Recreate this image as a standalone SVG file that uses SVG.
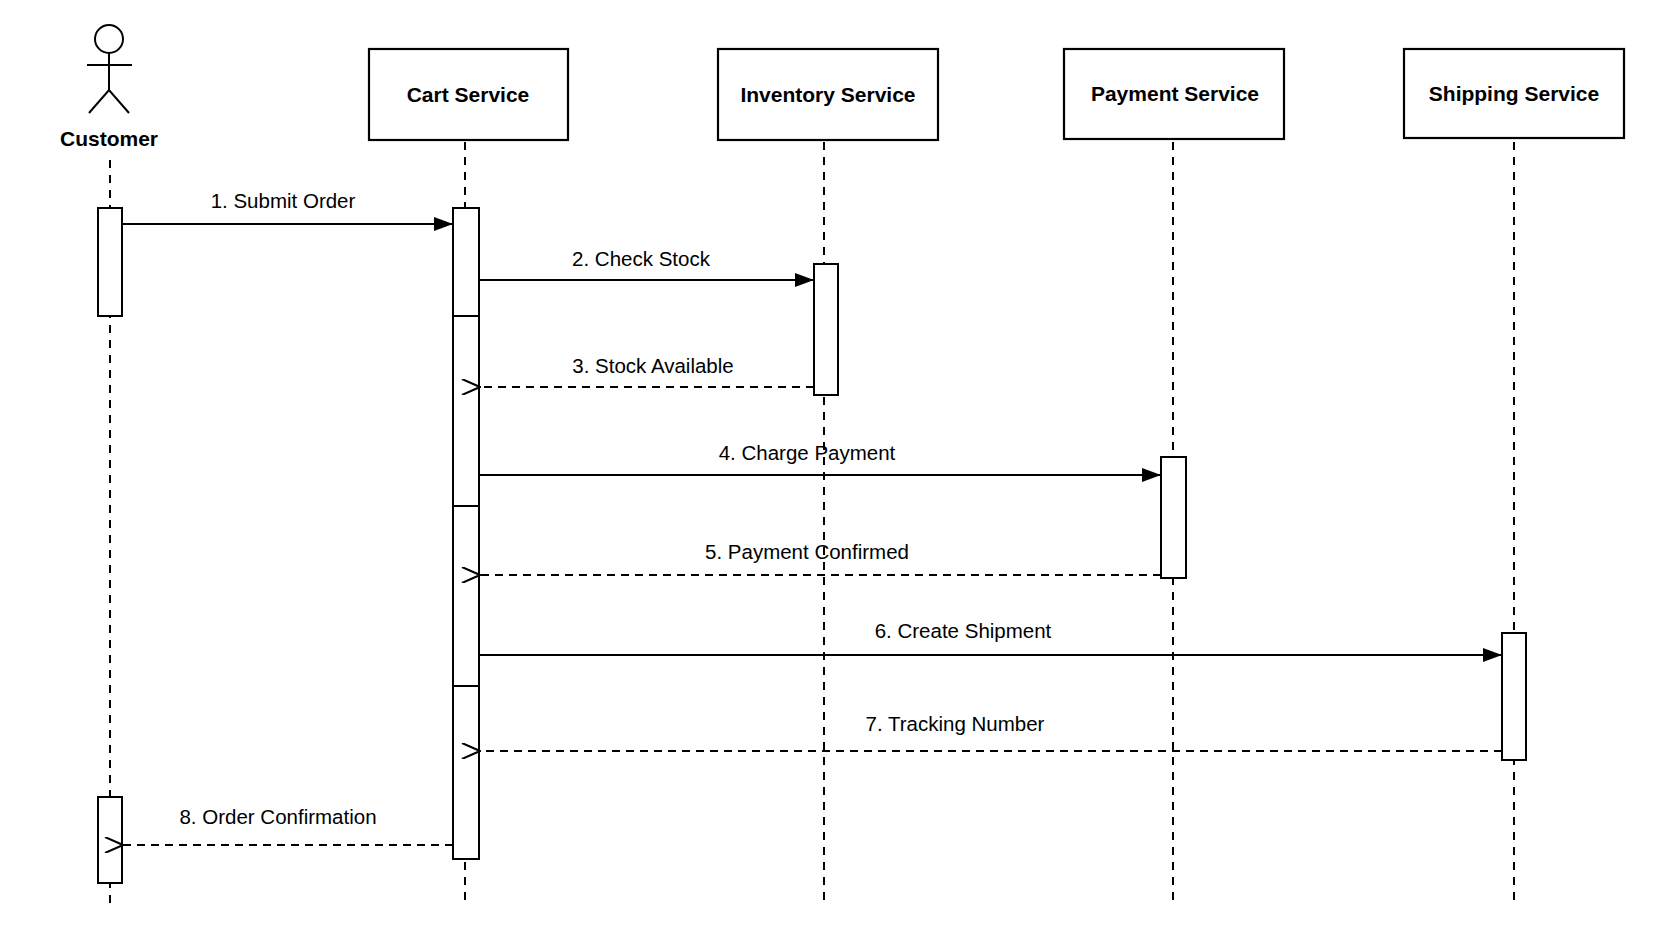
<svg xmlns="http://www.w3.org/2000/svg" width="1672" height="941" viewBox="0 0 1672 941">
<style>
.box{fill:#fff;stroke:#000;stroke-width:2.2}
.life{stroke:#000;stroke-width:2;stroke-dasharray:8,7;fill:none}
.act{fill:#fff;stroke:#000;stroke-width:2}
.msg{stroke:#000;stroke-width:2;fill:none}
.ret{stroke:#000;stroke-width:2;fill:none;stroke-dasharray:8,6}
.nt{font-family:"Liberation Sans",Arial,sans-serif;font-weight:bold;font-size:21px;text-anchor:middle}
.lt{font-family:"Liberation Sans",Arial,sans-serif;font-size:20.5px;text-anchor:middle}
</style>
<defs>
<marker id="solid" markerWidth="20" markerHeight="14" refX="19" refY="7" orient="auto" markerUnits="userSpaceOnUse"><path d="M0,0 L19,7 L0,14 Z" fill="#000"/></marker>
<marker id="open" markerWidth="20" markerHeight="16" refX="1" refY="8" orient="auto" markerUnits="userSpaceOnUse"><path d="M19,0 L1,8 L19,16" fill="none" stroke="#000" stroke-width="2"/></marker>
</defs>
<rect width="1672" height="941" fill="#fff"/>
<g id="lifelines">
<line class="life" x1="110" y1="160" x2="110" y2="907"/>
<line class="life" x1="465" y1="142" x2="465" y2="907"/>
<line class="life" x1="824" y1="142" x2="824" y2="907"/>
<line class="life" x1="1173" y1="142" x2="1173" y2="907"/>
<line class="life" x1="1514" y1="142" x2="1514" y2="907"/>
</g>
<g id="customer">
<circle cx="109" cy="39" r="14" fill="#fff" stroke="#000" stroke-width="2"/>
<line x1="109" y1="53" x2="109" y2="90" stroke="#000" stroke-width="2"/>
<line x1="87" y1="65" x2="132" y2="65" stroke="#000" stroke-width="2"/>
<path d="M89,113 L109,90 L129,113" fill="none" stroke="#000" stroke-width="2"/>
<text class="nt" x="109" y="146">Customer</text>
<rect class="act" x="98" y="208" width="24" height="108"/>
<rect class="act" x="98" y="797" width="24" height="86"/>
</g>
<g id="cart">
<rect class="box" x="369" y="49" width="199" height="91"/>
<text class="nt" x="468" y="102">Cart Service</text>
<rect class="act" x="453" y="208" width="26" height="651"/>
<line x1="453" y1="316" x2="479" y2="316" stroke="#000" stroke-width="2"/>
<line x1="453" y1="506" x2="479" y2="506" stroke="#000" stroke-width="2"/>
<line x1="453" y1="686" x2="479" y2="686" stroke="#000" stroke-width="2"/>
</g>
<g id="inventory">
<rect class="box" x="718" y="49" width="220" height="91"/>
<text class="nt" x="828" y="102">Inventory Service</text>
<rect class="act" x="814" y="264" width="24" height="131"/>
</g>
<g id="payment">
<rect class="box" x="1064" y="49" width="220" height="90"/>
<text class="nt" x="1175" y="101">Payment Service</text>
<rect class="act" x="1161" y="457" width="25" height="121"/>
</g>
<g id="shipping">
<rect class="box" x="1404" y="49" width="220" height="89"/>
<text class="nt" x="1514" y="101">Shipping Service</text>
<rect class="act" x="1502" y="633" width="24" height="127"/>
</g>
<g id="connectors">
<line class="msg" x1="122" y1="224" x2="453" y2="224" marker-end="url(#solid)"/>
<text class="lt" x="283" y="208">1. Submit Order</text>
<line class="msg" x1="479" y1="280" x2="814" y2="280" marker-end="url(#solid)"/>
<text class="lt" x="641" y="266">2. Check Stock</text>
<line class="ret" x1="814" y1="387" x2="480" y2="387" marker-end="url(#open)"/>
<text class="lt" x="653" y="373">3. Stock Available</text>
<line class="msg" x1="479" y1="475" x2="1161" y2="475" marker-end="url(#solid)"/>
<text class="lt" x="807" y="460">4. Charge Payment</text>
<line class="ret" x1="1161" y1="575" x2="480" y2="575" marker-end="url(#open)"/>
<text class="lt" x="807" y="559">5. Payment Confirmed</text>
<line class="msg" x1="479" y1="655" x2="1502" y2="655" marker-end="url(#solid)"/>
<text class="lt" x="963" y="638">6. Create Shipment</text>
<line class="ret" x1="1502" y1="751" x2="480" y2="751" marker-end="url(#open)"/>
<text class="lt" x="955" y="731">7. Tracking Number</text>
<line class="ret" x1="453" y1="845" x2="123" y2="845" marker-end="url(#open)"/>
<text class="lt" x="278" y="824">8. Order Confirmation</text>
</g>
</svg>
